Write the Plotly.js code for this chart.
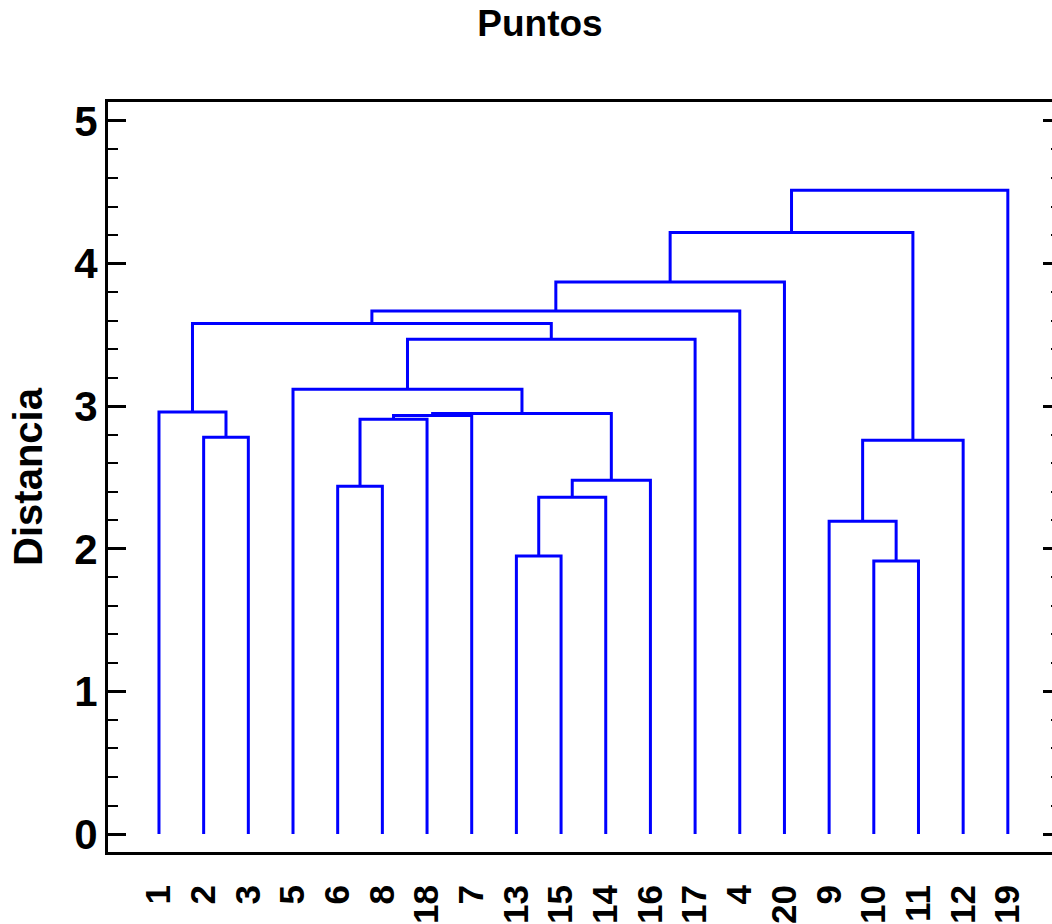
<!DOCTYPE html>
<html>
<head>
<meta charset="utf-8">
<script src="https://cdn.plot.ly/plotly-3.0.1.min.js"></script>
<style>
html, body { margin: 0; padding: 0; overflow: hidden; background: #fff; }
#chart { width: 1075px; height: 924px; }
</style>
</head>
<body>
<div id="chart"></div>
<script>
// Leaf order along the horizontal axis
const leafLabels = ["1","2","3","5","6","8","18","7","13","15","14","16","17","4","20","9","10","11","12","19"];

// Agglomeration steps: left child, right child, distance (clusters named c0, c1, ...)
const mergeLeft  = ["10","13","9", "c1","6", "c3","c2","2", "c4","c8","c9","1", "5",  "c12","c11","c14","c15","c16","c17"];
const mergeRight = ["11","15","c0","14","8", "16","12","3", "18","7", "c5","c7","c10","17", "c13","4",  "20", "c6", "19"];
const mergeDist  = [1.915,1.949,2.194,2.362,2.439,2.481,2.762,2.783,2.909,2.934,2.948,2.960,3.119,3.470,3.580,3.668,3.871,4.218,4.514];

const yTickVals = [0,1,2,3,4,5];

// Build dendrogram segments
const pos = {}, hgt = {};
leafLabels.forEach((l, i) => { pos[l] = i; hgt[l] = 0; });
const xs = [], ys = [];
mergeLeft.forEach((a, k) => {
  const b = mergeRight[k], h = mergeDist[k];
  xs.push(pos[a], pos[a], pos[b], pos[b], null);
  ys.push(hgt[a], h, h, hgt[b], null);
  const id = "c" + k;
  pos[id] = (pos[a] + pos[b]) / 2;
  hgt[id] = h;
});

const trace = {
  x: xs, y: ys, type: "scatter", mode: "lines",
  line: { color: "#0000ff", width: 3 },
  hoverinfo: "skip", showlegend: false
};

const layout = {
  width: 1075, height: 924,
  margin: { l: 108, r: 14, t: 102, b: 72 },
  paper_bgcolor: "#ffffff", plot_bgcolor: "#ffffff",
  showlegend: false,
  title: {
    text: "Puntos",
    font: { family: "Liberation Sans, Arial, sans-serif", size: 37, color: "#000", weight: "bold" },
    x: 540 / 1075, xanchor: "center",
    y: 1 - 23 / 924, yanchor: "middle", yref: "container"
  },
  xaxis: {
    range: [-1.141, 20.19],
    tickvals: leafLabels.map((l, i) => i),
    ticktext: leafLabels,
    tickangle: -90,
    ticks: "",
    showgrid: false, zeroline: false,
    showline: true, linecolor: "#000", linewidth: 3, mirror: true,
    tickfont: { family: "Liberation Sans, Arial, sans-serif", size: 35, color: "#000", weight: "bold" },
    ticklabelstandoff: 16
  },
  yaxis: {
    range: [-0.126, 5.133],
    tickvals: yTickVals,
    ticktext: yTickVals.map(String),
    ticks: "inside", ticklen: 18, tickwidth: 3, tickcolor: "#000",
    minor: { dtick: 0.2, ticks: "inside", ticklen: 10, tickwidth: 2, tickcolor: "#000", showgrid: false },
    showgrid: false, zeroline: false,
    showline: true, linecolor: "#000", linewidth: 3, mirror: "ticks",
    tickfont: { family: "Liberation Sans, Arial, sans-serif", size: 42, color: "#000", weight: "bold" },
    ticklabelstandoff: -1,
    title: {
      text: "Distancia",
      font: { family: "Liberation Sans, Arial, sans-serif", size: 40, color: "#000", weight: "bold" },
      standoff: 20
    }
  }
};

Plotly.newPlot("chart", [trace], layout, { displayModeBar: false, staticPlot: true });
</script>
</body>
</html>
